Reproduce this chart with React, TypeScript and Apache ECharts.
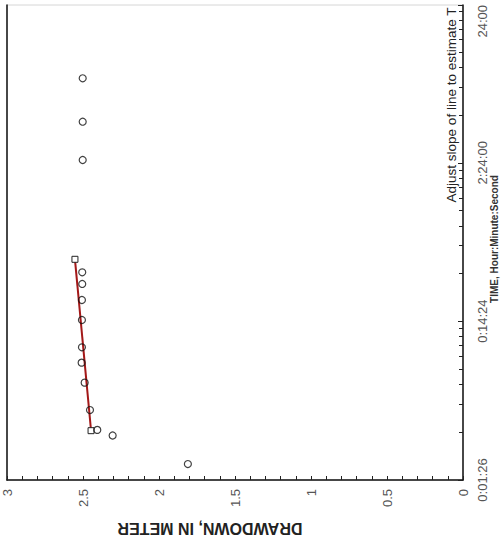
import React, { useEffect, useRef } from 'react';
import * as echarts from 'echarts';

// Observed data (time in seconds, drawdown in metres)
const timeSeconds = [109, 165, 179, 239, 356, 476, 595, 885, 1184, 1495, 1771, 9070, 15830, 29760];
const drawdownM = [1.81, 2.305, 2.406, 2.454, 2.489, 2.509, 2.507, 2.507, 2.507, 2.505, 2.505, 2.502, 2.502, 2.502];

// Fitted straight line (end points shown as squares)
const fitTimeSeconds = [177, 2140];
const fitDrawdownM = [2.447, 2.553];

// Axis tick labels
const timeTickLabels = ['0:01:26', '0:14:24', '2:24:00', '24:00'];
const drawdownTickLabels = ['0', '0.5', '1', '1.5', '2', '2.5', '3'];

const TIME_MIN = 86.4;
const TIME_MAX = 86400;
const FONT = '"Liberation Sans", Arial, Helvetica, sans-serif';

export default function App() {
  const ref = useRef<HTMLDivElement>(null);

  useEffect(() => {
    if (!ref.current) return;
    const chart = echarts.init(ref.current, null, { renderer: 'svg' });
    chart.setOption({
      animation: false,
      backgroundColor: '#ffffff',
      textStyle: { fontFamily: FONT },
      grid: {
        left: 7,
        top: 5,
        right: 38,
        bottom: 62,
        show: true,
        borderColor: '#d6d6d6',
        borderWidth: 1,
        backgroundColor: 'transparent',
      },
      xAxis: {
        type: 'value',
        min: 0,
        max: 3,
        interval: 0.5,
        inverse: true,
        position: 'bottom',
        axisLine: { show: true, onZero: false, lineStyle: { color: '#111', width: 1.5 } },
        axisTick: { show: true, inside: true, length: 4, lineStyle: { color: '#222', width: 1 } },
        minorTick: { show: true, splitNumber: 5, length: 4, lineStyle: { color: '#222', width: 1 } },
        splitLine: { show: false },
        axisLabel: {
          rotate: 90,
          fontSize: 13,
          color: '#555',
          margin: 9,
          fontFamily: FONT,
          formatter: (v: number) => drawdownTickLabels[Math.round(v / 0.5)] ?? '',
        },
      },
      yAxis: [
        {
          type: 'log',
          logBase: 10,
          min: TIME_MIN,
          max: TIME_MAX,
          interval: 1,
          position: 'right',
          axisLine: { show: true, onZero: false, lineStyle: { color: '#111', width: 1.5 } },
          axisTick: { show: true, inside: true, length: 5, lineStyle: { color: '#222', width: 1 } },
          minorTick: { show: true, splitNumber: 9, length: 4, lineStyle: { color: '#222', width: 1 } },
          splitLine: { show: false },
          axisLabel: {
            rotate: 90,
            fontSize: 13,
            color: '#555',
            margin: 13,
            fontFamily: FONT,
            alignMaxLabel: 'right',
            formatter: (v: number) => timeTickLabels[Math.round(Math.log10(v / TIME_MIN))] ?? '',
          },
        },
        {
          type: 'value',
          position: 'left',
          min: 0,
          max: 1,
          axisLine: { show: true, onZero: false, lineStyle: { color: '#111', width: 1.5 } },
          axisTick: { show: false },
          axisLabel: { show: false },
          splitLine: { show: false },
        },
      ],
      series: [
        {
          name: 'Fitted line',
          type: 'line',
          yAxisIndex: 0,
          data: fitTimeSeconds.map((t, i) => [fitDrawdownM[i], t]),
          symbol: 'rect',
          symbolSize: 6,
          showSymbol: true,
          itemStyle: { color: '#ffffff', borderColor: '#222', borderWidth: 1 },
          lineStyle: { color: '#a31818', width: 2 },
          z: 3,
        },
        {
          name: 'Observed',
          type: 'scatter',
          yAxisIndex: 0,
          data: timeSeconds.map((t, i) => [drawdownM[i], t]),
          symbol: 'circle',
          symbolSize: 7,
          itemStyle: { color: 'rgba(0,0,0,0)', borderColor: '#111', borderWidth: 1.2 },
          z: 4,
        },
      ],
      graphic: [
        {
          type: 'text',
          x: 210,
          y: 528,
          rotation: Math.PI,
          style: {
            text: 'DRAWDOWN, IN METER',
            fontFamily: FONT,
            fontSize: 16,
            fontWeight: 'bold',
            fill: '#222',
            align: 'center',
            verticalAlign: 'middle',
          },
        },
        {
          type: 'text',
          x: 451,
          y: 105,
          rotation: Math.PI / 2,
          style: {
            text: 'Adjust slope of line to estimate T',
            fontFamily: FONT,
            fontSize: 13.5,
            fill: '#222',
            align: 'center',
            verticalAlign: 'middle',
          },
        },
        {
          type: 'text',
          x: 494,
          y: 239,
          rotation: Math.PI / 2,
          style: {
            text: 'TIME, Hour:Minute:Second',
            fontFamily: FONT,
            fontSize: 10,
            fontWeight: 'bold',
            fill: '#333',
            align: 'center',
            verticalAlign: 'middle',
          },
        },
      ],
    });
    return () => chart.dispose();
  }, []);

  return (
    <div
      ref={ref}
      style={{ position: 'absolute', left: 0, top: 0, width: 501, height: 542, background: '#fff' }}
    />
  );
}
